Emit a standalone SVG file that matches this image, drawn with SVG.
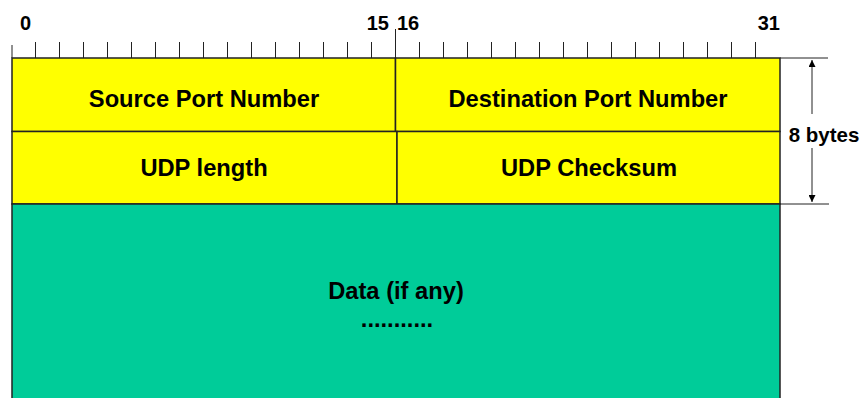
<svg xmlns="http://www.w3.org/2000/svg" width="864" height="398" viewBox="0 0 864 398">
<defs>
<style>
.lbl{font-family:"Liberation Sans",Arial,sans-serif;font-weight:bold;font-size:23.7px;fill:#000;text-anchor:middle}
.num{font-family:"Liberation Sans",Arial,sans-serif;font-weight:bold;font-size:20px;fill:#000}
.box{stroke:#222;stroke-width:1.5}
.tick{stroke:#222;stroke-width:1}
.ln{stroke:#222;stroke-width:1}
</style>
<marker id="ah" viewBox="0 0 10 10" refX="10" refY="5" markerWidth="7" markerHeight="7" markerUnits="userSpaceOnUse" orient="auto">
<path d="M0,0 L10,5 L0,10 z" fill="#000"/>
</marker>
</defs>
<rect width="864" height="398" fill="#fff"/>
<g id="ruler">
<text class="num" x="20" y="30">0</text>
<text class="num" x="389" y="30" text-anchor="end">15</text>
<text class="num" x="397" y="30">16</text>
<text class="num" x="780" y="30" text-anchor="end">31</text>
<line class="tick" x1="12" y1="45" x2="12" y2="58"/>
<path class="tick" d="M35.5,42V58M59.5,42V58M83.5,42V58M107.5,42V58M131.5,42V58M155.5,42V58M179.5,42V58M203.5,42V58M227.5,42V58M251.5,42V58M275.5,42V58M299.5,42V58M323.5,42V58M347.5,42V58M371.5,42V58M419.5,42V58M443.5,42V58M467.5,42V58M491.5,42V58M515.5,42V58M539.5,42V58M563.5,42V58M587.5,42V58M611.5,42V58M635.5,42V58M659.5,42V58M683.5,42V58M707.5,42V58M731.5,42V58M755.5,42V58"/>
<line class="tick" x1="395.5" y1="29" x2="395.5" y2="58"/>
</g>
<g id="source-port">
<rect class="box" x="12" y="58" width="383.5" height="73.5" fill="#ffff00"/>
<text class="lbl" x="204" y="107">Source Port Number</text>
</g>
<g id="destination-port">
<rect class="box" x="395.5" y="58" width="384.5" height="73.5" fill="#ffff00"/>
<text class="lbl" x="588" y="107">Destination Port Number</text>
</g>
<g id="udp-length">
<rect class="box" x="12" y="131.5" width="385" height="72.5" fill="#ffff00"/>
<text class="lbl" x="204" y="176">UDP length</text>
</g>
<g id="udp-checksum">
<rect class="box" x="397" y="131.5" width="383" height="72.5" fill="#ffff00"/>
<text class="lbl" x="589" y="176">UDP Checksum</text>
</g>
<g id="data">
<rect class="box" x="12" y="204" width="768" height="200" fill="#00cc99"/>
<text class="lbl" x="396" y="299">Data (if any)</text>
<text class="lbl" x="397" y="327">...........</text>
</g>
<g id="connectors">
<line class="ln" x1="780" y1="58" x2="828" y2="58"/>
<line class="ln" x1="780" y1="204" x2="829" y2="204"/>
<line class="ln" x1="812" y1="114" x2="812" y2="60" marker-end="url(#ah)"/>
<line class="ln" x1="812" y1="148" x2="812" y2="202" marker-end="url(#ah)"/>
</g>
<g id="size-label">
<text class="num" x="824" y="141.5" text-anchor="middle" style="font-size:20.5px">8 bytes</text>
</g>
</svg>
